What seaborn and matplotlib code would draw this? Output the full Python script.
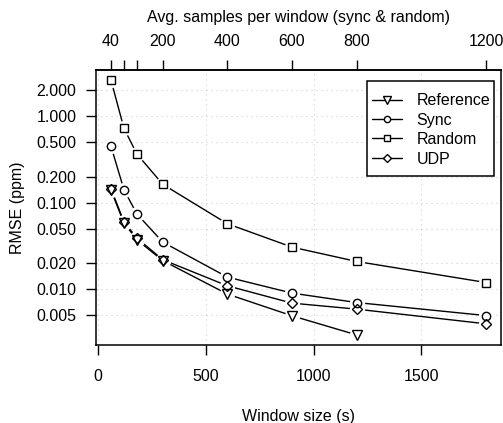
import numpy as np
import pandas as pd
import matplotlib
matplotlib.use("Agg")
import matplotlib.pyplot as plt
from matplotlib.lines import Line2D
from matplotlib.patches import Rectangle
import seaborn as sns

# Window sizes in seconds
window = [60, 120, 180, 300, 600, 900, 1200, 1800]

# RMSE (ppm) per estimator
rmse_reference = [0.139, 0.058, 0.0371, 0.0213, 0.00871, 0.00488, 0.00293]
rmse_sync = [0.449, 0.141, 0.0738, 0.0349, 0.0137, 0.00894, 0.00695, 0.00491]
rmse_random = [2.62, 0.726, 0.366, 0.163, 0.0569, 0.0305, 0.0208, 0.01186]
rmse_udp = [0.144, 0.060, 0.0388, 0.0218, 0.01086, 0.00684, 0.00583, 0.00394]

series_names = ["Reference", "Sync", "Random", "UDP"]
series_values = [rmse_reference, rmse_sync, rmse_random, rmse_udp]
series_markers = ["v", "o", "s", "D"]
marker_sizes = [7.0, 6.0, 5.2, 5.6]

y_ticks = [0.005, 0.010, 0.020, 0.050, 0.100, 0.200, 0.500, 1.000, 2.000]
x_ticks = [0, 500, 1000, 1500]
top_ticks = [40, 80, 120, 200, 400, 600, 800, 1200]
top_labels = ["40", "", "", "200", "400", "600", "800", "1200"]
samples_per_second = 1 / 1.5

FS = 11.5

sns.set_style("ticks")
plt.rcParams["font.family"] = ["Liberation Sans", "DejaVu Sans"]
plt.rcParams["font.size"] = FS
for key in ["text.color", "axes.labelcolor", "xtick.color", "ytick.color",
            "xtick.labelcolor", "ytick.labelcolor", "axes.edgecolor"]:
    plt.rcParams[key] = "black"

frames = []
for name, vals in zip(series_names, series_values):
    frames.append(pd.DataFrame({"window": window[:len(vals)], "rmse": vals, "series": name}))
df = pd.concat(frames, ignore_index=True)

fig = plt.figure(figsize=(5.03, 4.23), dpi=100)
ax = fig.add_axes([0.1909, 0.1844, 0.996 - 0.1909, 0.8345 - 0.1844])
ax.set_yscale("log")

# connecting lines
for name in series_names:
    sub = df[df["series"] == name]
    sns.lineplot(data=sub, x="window", y="rmse", ax=ax, color="black",
                 linewidth=1.0, estimator=None, sort=False, zorder=2)

# white halos leave small gaps in the lines around each point
for name in series_names:
    sub = df[df["series"] == name]
    ax.plot(sub["window"], sub["rmse"], linestyle="none", marker="o",
            markersize=11, markerfacecolor="white", markeredgecolor="none", zorder=3)

# open point symbols
for name, m, ms in zip(series_names, series_markers, marker_sizes):
    sub = df[df["series"] == name]
    ax.plot(sub["window"], sub["rmse"], linestyle="none", marker=m,
            markersize=ms, markerfacecolor="none", markeredgecolor="black",
            markeredgewidth=1.0, zorder=4)

ax.set_xlim(-9.6, 1869.6)
ax.set_ylim(10 ** -2.65, 10 ** 0.537)
ax.set_xticks(x_ticks)
ax.set_xticklabels([str(t) for t in x_ticks])
ax.set_yticks(y_ticks)
ax.set_yticklabels([f"{t:.3f}" for t in y_ticks])
ax.yaxis.set_minor_locator(matplotlib.ticker.NullLocator())
ax.xaxis.set_minor_locator(matplotlib.ticker.NullLocator())

ax.grid(True, which="major", color="#cfcfcf", linestyle=(0, (1, 3.5)), linewidth=0.8)
ax.set_axisbelow(True)

for sp in ax.spines.values():
    sp.set_visible(True)
    sp.set_linewidth(1.1)
    sp.set_color("black")

ax.tick_params(axis="x", direction="out", length=7, width=1.0, pad=10, labelsize=FS,
               top=False, colors="black")
ax.tick_params(axis="y", direction="out", length=7, width=1.0, pad=7, labelsize=FS,
               right=False, colors="black")

ax.set_xlabel("Window size (s)", fontsize=FS, labelpad=18, color="black")
ax.set_ylabel("RMSE (ppm)", fontsize=FS, labelpad=8, color="black")

# samples per window on the top axis
top = ax.secondary_xaxis("top", functions=(lambda x: x * samples_per_second,
                                           lambda s: s / samples_per_second))
top.set_xticks(top_ticks)
top.set_xticklabels(top_labels)
top.tick_params(direction="out", length=7, width=1.0, pad=8, labelsize=FS, colors="black")
top.xaxis.set_minor_locator(matplotlib.ticker.NullLocator())
top.set_xlabel("Avg. samples per window (sync & random)", fontsize=FS, labelpad=9, color="black")
top.spines["top"].set_linewidth(1.1)
top.spines["top"].set_color("black")

# legend box
ax.add_patch(Rectangle((0.669, 0.6145), 0.983 - 0.669, 0.96 - 0.6145, transform=ax.transAxes,
                       facecolor="white", edgecolor="black", linewidth=1.1, zorder=5))
handles = [Line2D([], [], color="black", linewidth=1.0, marker=m, markersize=ms * 0.75,
                  markerfacecolor="white", markeredgecolor="black", markeredgewidth=1.0)
           for m, ms in zip(series_markers, marker_sizes)]
leg = ax.legend(handles, series_names, loc="upper left", bbox_to_anchor=(0.681, 0.916),
                frameon=False, fontsize=FS, handlelength=1.9, handletextpad=0.9,
                labelspacing=0.28, borderpad=0, borderaxespad=0, labelcolor="black")
leg.set_zorder(6)

fig.savefig("out.png", dpi=100)
